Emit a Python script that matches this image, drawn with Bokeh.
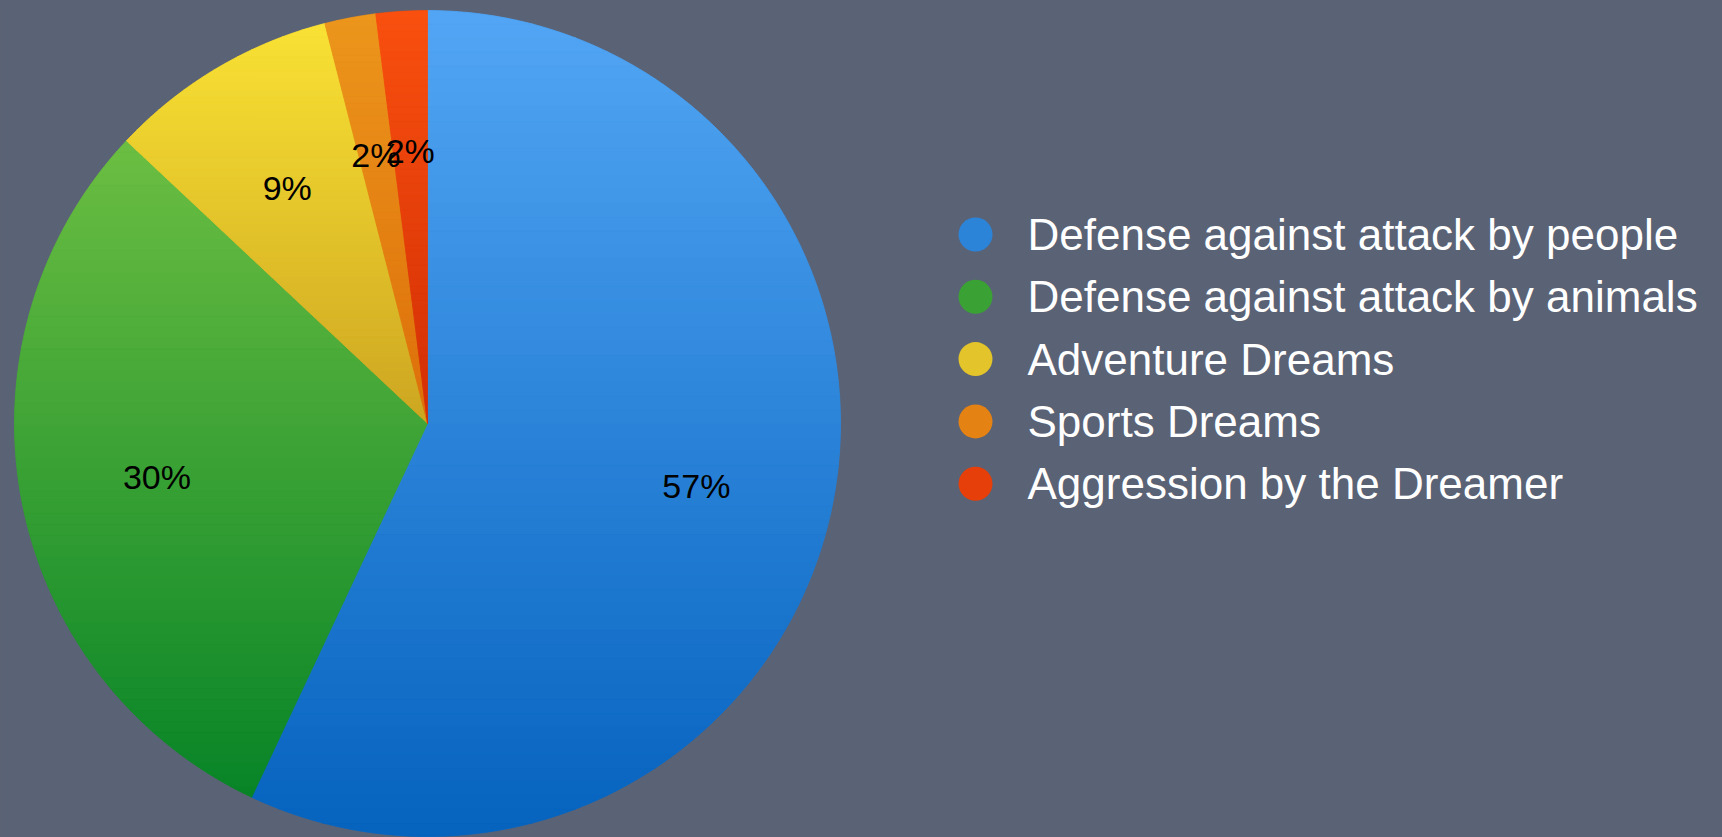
import numpy as np
from bokeh.plotting import figure
from bokeh.models import Range1d, ColumnDataSource
from bokeh.embed import file_html
from bokeh.resources import INLINE
from bokeh.core.properties import value

# ---------------- data ----------------
categories = [
    "Defense against attack by people",
    "Defense against attack by animals",
    "Adventure Dreams",
    "Sports Dreams",
    "Aggression by the Dreamer",
]
shares = [57, 30, 9, 2, 2]
labels = ["57%", "30%", "9%", "2%", "2%"]
top_colors = ["#52A6F4", "#6CBE42", "#F9E234", "#EC961C", "#F9500F"]
bottom_colors = ["#0562BE", "#078427", "#CDA521", "#DD6E0A", "#D22E05"]

# ---------------- layout / style ----------------
W, H = 1722, 837
BG = "#5A6275"
CX, CY, R = 427, 837 - 423, 413
FONT = "Liberation Sans"


def hex2rgb(h):
    h = h.lstrip("#")
    return np.array([int(h[i:i + 2], 16) for i in (0, 2, 4)], dtype=float)


def rgb2hex(c):
    c = np.clip(np.round(c), 0, 255).astype(int)
    return "#%02x%02x%02x" % tuple(c)


def lerp_color(a, b, t):
    return rgb2hex(hex2rgb(a) * (1 - t) + hex2rgb(b) * t)


mid_colors = [lerp_color(a, b, 0.5) for a, b in zip(top_colors, bottom_colors)]

frac = np.array(shares, dtype=float) / sum(shares)
cum = np.concatenate([[0.0], np.cumsum(frac)])
start_angles = np.pi / 2 - 2 * np.pi * cum[:-1]
end_angles = np.pi / 2 - 2 * np.pi * cum[1:]
mid_angles = (start_angles + end_angles) / 2

p = figure(width=W, height=H, x_range=Range1d(0, W), y_range=Range1d(0, H),
           output_backend="svg", toolbar_location=None, min_border=0,
           x_axis_location=None, y_axis_location=None,
           background_fill_color=BG, border_fill_color=BG)
p.grid.visible = False
p.outline_line_color = None

src = ColumnDataSource(dict(
    x=[CX] * len(shares), y=[CY] * len(shares),
    start=start_angles, end=end_angles, color=mid_colors, cat=categories,
))
p.wedge(x="x", y="y", radius=R, start_angle="start", end_angle="end",
        direction="clock", fill_color="color", line_color=None, source=src)


# ---- vertical gradient overlay per slice (horizontal strips of each wedge) ----
def clip_half(poly, y0, keep_above):
    out = []
    n = len(poly)
    for i in range(n):
        a = poly[i]
        b = poly[(i + 1) % n]
        ina = a[1] >= y0 if keep_above else a[1] <= y0
        inb = b[1] >= y0 if keep_above else b[1] <= y0
        if ina:
            out.append(a)
        if ina != inb:
            t = (y0 - a[1]) / (b[1] - a[1])
            out.append((a[0] + t * (b[0] - a[0]), y0))
    return out


gx, gy, gc = [], [], []
NSTRIP = 60
for i in range(len(shares)):
    angs = np.linspace(start_angles[i], end_angles[i], 240)
    poly = [(CX, CY)] + [(CX + R * np.cos(a), CY + R * np.sin(a)) for a in angs]
    ys = [pt[1] for pt in poly]
    ymin, ymax = min(ys), max(ys)
    edges = np.linspace(ymin, ymax, NSTRIP + 1)
    for k in range(NSTRIP):
        lo, hi = edges[k], edges[k + 1]
        cp = clip_half(poly, lo, True)
        if len(cp) < 3:
            continue
        cp = clip_half(cp, hi, False)
        if len(cp) < 3:
            continue
        t = 1 - ((lo + hi) / 2 - ymin) / (ymax - ymin)
        gx.append([q[0] for q in cp])
        gy.append([q[1] for q in cp])
        gc.append(lerp_color(top_colors[i], bottom_colors[i], t))

p.patches(xs=gx, ys=gy, fill_color=gc, line_color=gc, line_width=0.8)

# ---- percentage labels ----
LR = R * 0.667
p.text(x=CX + LR * np.cos(mid_angles), y=CY + LR * np.sin(mid_angles) - 2, text=labels,
       text_align="center", text_baseline="middle", text_color="black",
       text_font=value(FONT), text_font_size="34px")

# ---- legend ----
row_pitch = 62.3
base0 = H - 234
baselines = [base0 - i * row_pitch for i in range(len(categories))]
p.scatter(x=[975] * len(categories), y=baselines, size=34,
          marker="circle", fill_color=mid_colors, line_color=None)
p.text(x=[1027] * len(categories), y=baselines, text=categories,
       text_align="left", text_baseline="middle", text_color="white",
       text_font=value(FONT), text_font_size="44px")

html = file_html(p, INLINE)
html = html.replace("<head>", "<head><style>html,body{background:%s;margin:0;}</style>" % BG, 1)
open("out.html", "w").write(html)
